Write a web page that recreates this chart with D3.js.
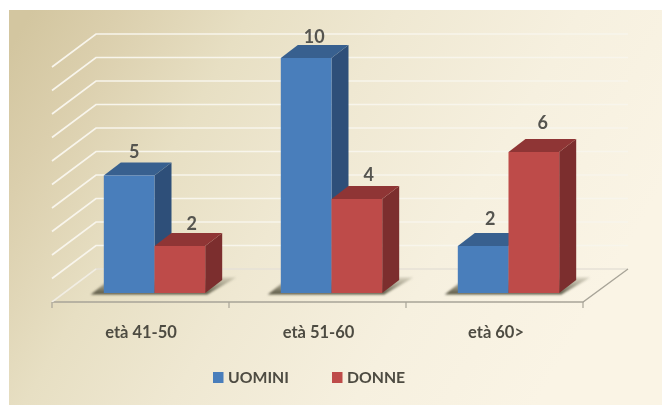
<!DOCTYPE html>
<html><head><meta charset="utf-8">
<script src="https://cdn.jsdelivr.net/npm/d3@7/dist/d3.min.js"></script>
<style>html,body{margin:0;padding:0;background:#fff}svg{display:block}text{font-family:Lato,"Open Sans",sans-serif}</style>
</head><body><svg id="c" width="662" height="405"></svg>
<script>
const categories = ["età 41-50","età 51-60","età 60>"];
const seriesNames = ["UOMINI","DONNE"];
const uomini = [5,10,2];
const donne = [2,4,6];
const yTicks = [0,1,2,3,4,5,6,7,8,9,10];

const colors = {
  UOMINI:{front:"#4a7ebb",top:"#38618f",side:"#2f5079"},
  DONNE:{front:"#be4b48",top:"#8f3634",side:"#7b2e2d"}
};
const labelNudge = {UOMINI:[[5,-5],[8,-2],[7,-8]],DONNE:[[12,-3],[12,-5],[9,-10]]};
const seriesValues = {UOMINI:uomini,DONNE:donne};

const svg = d3.select("#c");
const defs = svg.append("defs");
const bg = defs.append("linearGradient").attr("id","bg").attr("x1",0).attr("y1",0.1).attr("x2",1).attr("y2",0.45);
[[0,"#d3c6a0"],[0.12,"#dbcfad"],[0.3,"#e7dfc3"],[0.5,"#efe8d2"],[0.75,"#f6f0df"],[1,"#faf4e5"]]
  .forEach(d=>bg.append("stop").attr("offset",d[0]).attr("stop-color",d[1]));
const shGrad = defs.append("linearGradient").attr("id","sh").attr("x1",0).attr("y1",1).attr("x2",0).attr("y2",0);
shGrad.append("stop").attr("offset",0).attr("stop-color","#55523f").attr("stop-opacity",1);
shGrad.append("stop").attr("offset",1).attr("stop-color","#8f8b75").attr("stop-opacity",0.3);
defs.append("filter").attr("id","blur").append("feGaussianBlur").attr("stdDeviation",1.2);
defs.append("filter").attr("id","soft").append("feGaussianBlur").attr("stdDeviation",0.45);

svg.append("rect").attr("x",9).attr("y",10).attr("width",653).attr("height",395).attr("fill","url(#bg)");

const root = svg.append("g").attr("filter","url(#soft)");

// geometry of the 3D projection
const floor = {x0:52,x1:583,y:302,dx:44,dy:-33};
const bar = {dx:17,dy:-13,inset:14};
const yFloor = d3.scaleLinear().domain([0,10]).range([floor.y,floor.y-235]);
const yBar = d3.scaleLinear().domain([0,10]).range([293,58]);
const x0 = d3.scaleBand().domain(categories).range([floor.x0+bar.inset,floor.x1+bar.inset]).paddingInner(0).paddingOuter(0);
const x1 = d3.scaleBand().domain(seriesNames).range([0,x0.bandwidth()]).paddingOuter(0.7456).paddingInner(0);
const axisX = d3.scaleBand().domain(categories).range([floor.x0,floor.x1]);

// gridlines
root.append("g").selectAll("path").data(yTicks).join("path")
  .attr("d",t=>{const y=yFloor(t);return `M${floor.x0},${y}L${floor.x0+floor.dx},${y+floor.dy}L${floor.x1+floor.dx+1},${y+floor.dy}`;})
  .attr("fill","none").attr("stroke",t=>t===0?"#e6e1d6":"#f8f5ec").attr("stroke-width",1.7);

// floor edges
root.append("path")
  .attr("d",`M${floor.x0},${floor.y}L${floor.x1},${floor.y}L${floor.x1+floor.dx+1},${floor.y+floor.dy}`)
  .attr("fill","none").attr("stroke","#a8a498").attr("stroke-width",1.3);
root.append("path").attr("d",`M${floor.x0},${floor.y}L${floor.x0+floor.dx},${floor.y+floor.dy}`)
  .attr("fill","none").attr("stroke","#f2eee2").attr("stroke-width",1.5);

// x ticks
const ticks = categories.map(c=>axisX(c)).concat([floor.x1]);
root.append("g").selectAll("line").data(ticks).join("line")
  .attr("x1",d=>d).attr("x2",d=>d).attr("y1",floor.y).attr("y2",floor.y+6)
  .attr("stroke","#a8a498").attr("stroke-width",1.2);

// floor shadows
root.append("g").selectAll("path").data(categories).join("path")
  .attr("d",c=>{
    const l=x0(c)+x1("UOMINI"), r=x0(c)+x1("DONNE")+x1.bandwidth(), y=yBar(0)+1.5;
    return `M${l-13},${y}L${l+2},${y-12}L${r+17},${y-17}L${r+31},${y-17}L${r+2},${y}Z`;
  })
  .attr("fill","url(#sh)").attr("filter","url(#blur)");

// bars
const bars = categories.flatMap((c,i)=>seriesNames.map(s=>({c,s,i,v:seriesValues[s][i]})));
const g = root.append("g").selectAll("g").data(bars).join("g");
const X = d=>x0(d.c)+x1(d.s), W = x1.bandwidth();
g.append("path").attr("fill",d=>colors[d.s].side)
  .attr("d",d=>{const x=X(d)+W,t=yBar(d.v),b=yBar(0);return `M${x},${t}L${x+bar.dx},${t+bar.dy}L${x+bar.dx},${b+bar.dy}L${x},${b}Z`;});
g.append("path").attr("fill",d=>colors[d.s].top)
  .attr("d",d=>{const x=X(d),t=yBar(d.v);return `M${x},${t}L${x+bar.dx},${t+bar.dy}L${x+W+bar.dx},${t+bar.dy}L${x+W},${t}Z`;});
g.append("rect").attr("fill",d=>colors[d.s].front)
  .attr("x",X).attr("width",W).attr("y",d=>yBar(d.v)).attr("height",d=>yBar(0)-yBar(d.v));

// value labels
root.append("g").selectAll("text").data(bars).join("text")
  .attr("x",d=>X(d)+W/2+labelNudge[d.s][d.i][0])
  .attr("y",d=>yBar(d.v)+bar.dy+labelNudge[d.s][d.i][1])
  .attr("text-anchor","middle").attr("font-size",18).attr("font-weight",700).attr("fill","#555450")
  .text(d=>d.v);

// category labels
root.append("g").selectAll("text").data(categories).join("text")
  .attr("x",(c,i)=>axisX(c)+axisX.bandwidth()/2+0.5+i*0.5).attr("y",338)
  .attr("text-anchor","middle").attr("font-size",16.5).attr("font-weight",700).attr("fill","#4e4c42")
  .text(c=>c);

// legend
const legendX = d3.scaleOrdinal().domain(seriesNames).range([213,332]);
const lg = root.append("g").selectAll("g").data(seriesNames).join("g").attr("transform",s=>`translate(${legendX(s)},372)`);
lg.append("rect").attr("width",10.5).attr("height",11).attr("fill",s=>colors[s].front);
lg.append("text").attr("x",15).attr("y",11).attr("font-size",15.8).attr("font-weight",700).attr("fill","#4e4c42").text(s=>s);
</script></body></html>
